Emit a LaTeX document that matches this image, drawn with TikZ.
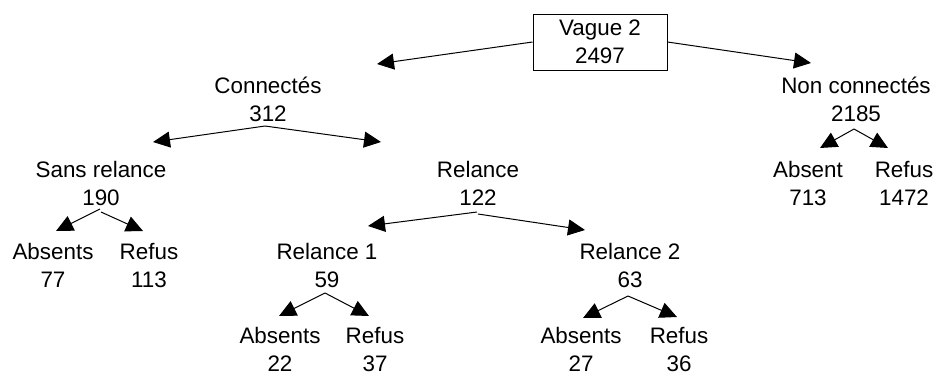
\documentclass[tikz,border=0pt]{standalone}
\usepackage{fontspec}
\setmainfont{Liberation Sans}
\usetikzlibrary{arrows.meta,calc}
\begin{document}
\begin{tikzpicture}[x=1pt,y=-1pt,
  lbl/.style={align=center,anchor=base,inner sep=0pt,font=\fontsize{22.4}{28}\selectfont},
  arr/.style={line width=1pt,-{Triangle[length=17pt,width=16pt]}}]
\useasboundingbox (0,0) rectangle (937,376);
\node[draw,line width=1pt,minimum width=134pt,minimum height=56pt,align=center,inner sep=0pt,font=\fontsize{22.4}{28}\selectfont] (root) at (600,42) {Vague 2\\2497};
% nodes placed at the baseline of their second line
\node[lbl] (conn) at (268,121) {Connectés\\312};
\node[lbl] (nconn) at (856,121) {Non connectés\\2185};
\node[lbl] (sans) at (101,205) {Sans relance\\190};
\node[lbl] (rel) at (478,205) {Relance\\122};
\node[lbl] (nabs) at (808,205) {Absent\\713};
\node[lbl] (nref) at (904,205) {Refus\\1472};
\node[lbl] (abs1) at (53,287) {Absents\\77};
\node[lbl] (ref1) at (149,287) {Refus\\113};
\node[lbl] (rel1) at (327,287) {Relance 1\\59};
\node[lbl] (rel2) at (630,287) {Relance 2\\63};
\node[lbl] (abs2) at (280,371) {Absents\\22};
\node[lbl] (ref2) at (375,371) {Refus\\37};
\node[lbl] (abs3) at (581,371) {Absents\\27};
\node[lbl] (ref3) at (679,371) {Refus\\36};
% root
\draw[arr] (root.west) -- ($(conn.base)+(109,-57)$);
\draw[arr] (root.east) -- ($(nconn.base)+(-45,-58)$);
% connectes
\draw[arr] ($(conn.base)+(-3,5)$) -- ($(sans.base)+(52,-63)$);
\draw[arr] ($(conn.base)+(-3,5)$) -- ($(rel.base)+(-97,-63)$);
% non connectes
\draw[arr] ($(nconn.base)+(-2,8)$) -- ($(nabs.base)+(12,-57)$);
\draw[arr] ($(nconn.base)+(-2,8)$) -- ($(nref.base)+(-16,-57)$);
% sans relance
\draw[arr] ($(sans.base)+(-1,4)$) -- ($(abs1.base)+(3,-56)$);
\draw[arr] ($(sans.base)+(0,7)$) -- ($(ref1.base)+(-6,-56)$);
% relance
\draw[arr] ($(rel.base)+(-1,7)$) -- ($(rel1.base)+(41,-61)$);
\draw[arr] ($(rel.base)+(0,9)$) -- ($(rel2.base)+(-45,-57)$);
% relance 1
\draw[arr] ($(rel1.base)+(-2,6)$) -- ($(abs2.base)+(-1,-55)$);
\draw[arr] ($(rel1.base)+(-2,6)$) -- ($(ref2.base)+(-6,-55)$);
% relance 2
\draw[arr] ($(rel2.base)+(-2,9)$) -- ($(abs3.base)+(2,-53)$);
\draw[arr] ($(rel2.base)+(-2,9)$) -- ($(ref3.base)+(-2,-54)$);
\end{tikzpicture}
\end{document}
